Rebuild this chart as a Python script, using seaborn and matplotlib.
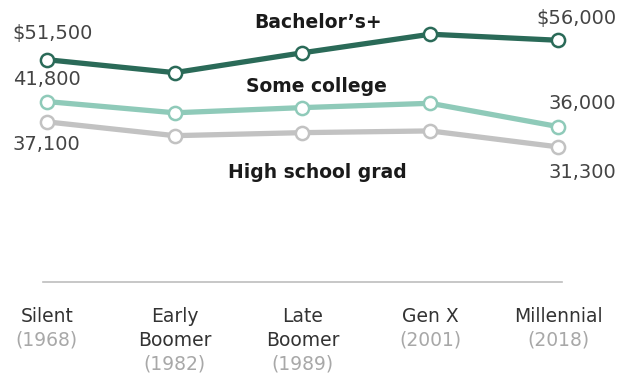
import matplotlib
matplotlib.use("Agg")
import matplotlib.pyplot as plt
import seaborn as sns
import pandas as pd

# ---- data ----
generations = ["Silent", "Early\nBoomer", "Late\nBoomer", "Gen X", "Millennial"]
years = ["(1968)", "(1982)", "(1989)", "(2001)", "(2018)"]
series_names = ["Bachelor\u2019s+", "Some college", "High school grad"]
bachelors = [51500, 48500, 53100, 57400, 56000]
some_college = [41800, 39200, 40400, 41400, 36000]
high_school = [37100, 33900, 34600, 35000, 31300]
first_labels = ["$51,500", "41,800", "37,100"]
last_labels = ["$56,000", "36,000", "31,300"]

colors = {series_names[0]: "#2a6a58", series_names[1]: "#8fcab9", series_names[2]: "#c2c2c2"}

rows = []
for name, vals in zip(series_names, [bachelors, some_college, high_school]):
    for i, v in enumerate(vals):
        rows.append({"x": i, "income": v, "series": name})
df = pd.DataFrame(rows)

sns.set_style("white")
plt.rcParams['font.family'] = ['DejaVu Sans']

fig = plt.figure(figsize=(6.24, 3.85), dpi=100)
ax = fig.add_axes([43/624, 1 - 282/385, (562-43)/624, 259/385])

for name in series_names:
    sub = df[df["series"] == name]
    sns.lineplot(data=sub, x="x", y="income", ax=ax, color=colors[name],
                 linewidth=3.8, marker="o", markersize=9.5,
                 markerfacecolor="white", markeredgecolor=colors[name],
                 markeredgewidth=1.8, clip_on=False, zorder=3)

ax.set_xlim(-0.03, 4.03)
ax.set_ylim(0, 60000)
for s in ["top", "right", "left"]:
    ax.spines[s].set_visible(False)
ax.spines["bottom"].set_color("#bdbdbd")
ax.spines["bottom"].set_linewidth(1.2)
ax.set_yticks([])
ax.set_xticks([])
ax.set_xlabel("")
ax.set_ylabel("")
ax.legend_ = None

px = 0.72  # points per pixel
vcol = "#444444"
# first value labels
first_vals = [bachelors[0], some_college[0], high_school[0]]
first_off = [(-34, 26), (-34, 22), (-34, -23)]
for lab, v, (dx, dy) in zip(first_labels, first_vals, first_off):
    ax.annotate(lab, xy=(0, v), xytext=(dx * px, dy * px), textcoords="offset points",
                ha="left", va="center", fontsize=14, color=vcol)
last_vals = [bachelors[-1], some_college[-1], high_school[-1]]
last_off = [(58, 22), (58, 23), (58, -26)]
for lab, v, (dx, dy) in zip(last_labels, last_vals, last_off):
    ax.annotate(lab, xy=(4, v), xytext=(dx * px, dy * px), textcoords="offset points",
                ha="right", va="center", fontsize=14, color=vcol)

# series labels
ser_vals = [bachelors[2], some_college[2], high_school[2]]
ser_off = [(16, 30), (14, 21), (15, -40)]
for name, v, (dx, dy) in zip(series_names, ser_vals, ser_off):
    ax.annotate(name, xy=(2, v), xytext=(dx * px, dy * px), textcoords="offset points",
                ha="center", va="center", fontsize=13.5, fontweight="bold", color="#1a1a1a")

# x tick labels
for i, (g, yr) in enumerate(zip(generations, years)):
    parts = g.split("\n")
    for k, p in enumerate(parts):
        ax.annotate(p, xy=(i, 0), xytext=(0, -(34 + 24 * k) * px), textcoords="offset points",
                    ha="center", va="center", fontsize=13.5, color="#333333")
    k = len(parts)
    ax.annotate(yr, xy=(i, 0), xytext=(0, -(34 + 24 * k) * px), textcoords="offset points",
                ha="center", va="center", fontsize=13.5, color="#a8a8a8")

fig.savefig("out.png", dpi=100, facecolor="white")
